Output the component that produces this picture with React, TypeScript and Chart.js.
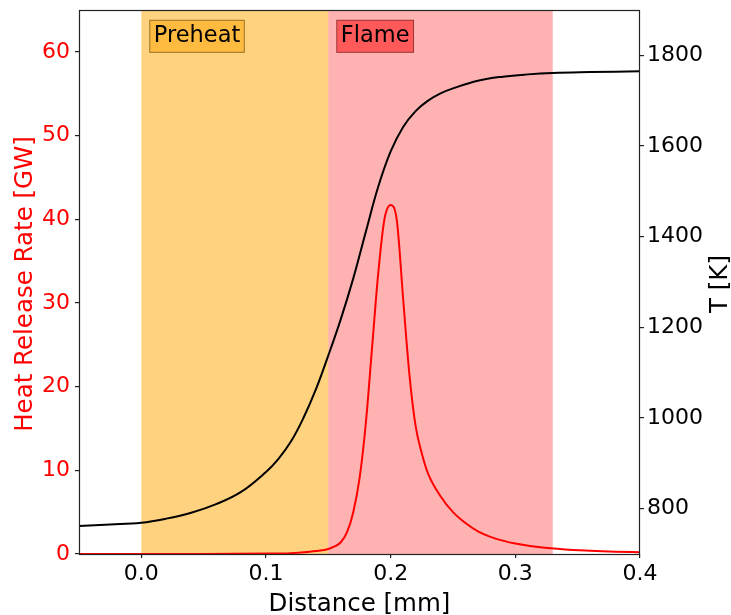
import { useEffect, useRef } from "react";
import { Chart, registerables } from "chart.js";

Chart.register(...registerables);

const FONT = '"DejaVu Sans", "Liberation Sans", sans-serif';

// Axis ranges
const X_MIN = -0.05;
const X_MAX = 0.4;
const HRR_MIN = 0;
const HRR_MAX = 65;
const T_MIN = 700;
const T_MAX = 1900;

// Tick values
const xTicks = [0.0, 0.1, 0.2, 0.3, 0.4];
const hrrTicks = [0, 10, 20, 30, 40, 50, 60];
const tempTicks = [800, 1000, 1200, 1400, 1600, 1800];

// Temperature profile [K] along distance [mm]
const tempDistance = [
  -0.05, -0.025, 0.0, 0.02, 0.04, 0.06, 0.08, 0.1, 0.11, 0.12, 0.13, 0.14,
  0.15, 0.16, 0.17, 0.18, 0.19, 0.2, 0.21, 0.22, 0.23, 0.24, 0.25, 0.27,
  0.29, 0.31, 0.33, 0.36, 0.4,
];
const temperature = [
  762, 765, 769, 778, 791, 810, 837, 881, 910, 948, 1000, 1063,
  1138, 1218, 1308, 1410, 1510, 1588, 1642, 1677, 1700, 1716, 1727, 1744,
  1753, 1758, 1761, 1763, 1765,
];

// Heat release rate [GW] along distance [mm]
const hrrDistance = [
  -0.05, 0.05, 0.1, 0.12, 0.135, 0.14, 0.15, 0.155, 0.16, 0.165, 0.17,
  0.175, 0.18, 0.185, 0.19, 0.195, 0.2, 0.205, 0.21, 0.215, 0.22, 0.225,
  0.23, 0.24, 0.25, 0.26, 0.27, 0.28, 0.29, 0.3, 0.32, 0.34, 0.36, 0.38, 0.4,
];
const heatRelease = [
  0.0, 0.0, 0.05, 0.1, 0.27, 0.35, 0.6, 0.9, 1.4, 2.6, 5.0,
  9.0, 15.5, 24.5, 33.5, 40.0, 41.7, 39.8, 30.5, 21.5, 15.3, 12.0,
  9.6, 6.9, 5.0, 3.7, 2.7, 2.05, 1.6, 1.25, 0.8, 0.55, 0.4, 0.28, 0.2,
];

// Shaded zones
const zoneNames = ["Preheat", "Flame"];
const zoneStart = [0.0, 0.15];
const zoneEnd = [0.15, 0.33];
const zoneFill = ["rgba(255,165,0,0.5)", "rgba(255,0,0,0.3)"];
const zoneTagFill = ["rgba(255,165,0,0.5)", "rgba(255,0,0,0.5)"];

const xTitle = "Distance [mm]";
const hrrTitle = "Heat Release Rate [GW]";
const tempTitle = "T [K]";

const X_TICK_FONT = { family: FONT, size: 22, lineHeight: 1 };
const Y_TICK_FONT = { family: FONT, size: 22, lineHeight: 0.2 };
const TITLE_FONT = `24.5px ${FONT}`;
const TAG_FONT = `22.5px ${FONT}`;

const decorPlugin = {
  id: "decor",
  beforeDatasetsDraw(chart: any) {
    const { ctx, chartArea: a, scales } = chart;
    const x = scales.x;
    ctx.save();
    zoneNames.forEach((_, i) => {
      const x0 = x.getPixelForValue(zoneStart[i]);
      const x1 = x.getPixelForValue(zoneEnd[i]);
      ctx.fillStyle = zoneFill[i];
      ctx.fillRect(x0, a.top, x1 - x0, a.bottom - a.top);
    });
    ctx.restore();
  },
  afterDatasetsDraw(chart: any) {
    const { ctx, chartArea: a, scales } = chart;
    const x = scales.x;
    ctx.save();

    // zone tags
    ctx.font = TAG_FONT;
    ctx.textAlign = "left";
    ctx.textBaseline = "alphabetic";
    zoneNames.forEach((name, i) => {
      const tx = x.getPixelForValue(zoneStart[i] + 0.01);
      const base = a.top + 32.3;
      const w = ctx.measureText(name).width;
      const bx = tx - 4.5;
      const by = base - 22.5;
      const bw = w + 9;
      const bh = 33;
      ctx.fillStyle = zoneTagFill[i];
      ctx.fillRect(bx, by, bw, bh);
      ctx.strokeStyle = "rgba(0,0,0,0.4)";
      ctx.lineWidth = 1;
      ctx.strokeRect(bx + 0.5, by + 0.5, bw - 1, bh - 1);
      ctx.fillStyle = "#000";
      ctx.fillText(name, tx, base);
    });

    // frame
    ctx.strokeStyle = "#222";
    ctx.lineWidth = 1.2;
    ctx.strokeRect(a.left + 0.5, a.top + 0.5, a.right - a.left - 1, a.bottom - a.top);

    // axis titles
    ctx.font = TITLE_FONT;
    ctx.textAlign = "center";
    ctx.textBaseline = "alphabetic";
    ctx.fillStyle = "#000";
    ctx.fillText(xTitle, (a.left + a.right) / 2, 611);

    const midY = (a.top + a.bottom) / 2 + 2;
    ctx.save();
    ctx.translate(31.7, midY);
    ctx.rotate(-Math.PI / 2);
    ctx.fillStyle = "#ff0000";
    ctx.fillText(hrrTitle, 0, 0);
    ctx.restore();

    ctx.save();
    ctx.translate(727, midY);
    ctx.rotate(-Math.PI / 2);
    ctx.fillStyle = "#000";
    ctx.fillText(tempTitle, 0, 0);
    ctx.restore();

    ctx.restore();
  },
};

export default function App() {
  const canvasRef = useRef<HTMLCanvasElement | null>(null);

  useEffect(() => {
    document.body.style.margin = "0";
    const canvas = canvasRef.current;
    if (!canvas) return;

    const chart = new Chart(canvas, {
      type: "line",
      data: {
        datasets: [
          {
            label: "T",
            data: tempDistance.map((d, i) => ({ x: d, y: temperature[i] })),
            borderColor: "#000000",
            borderWidth: 2,
            pointRadius: 0,
            fill: false,
            tension: 0.4,
            yAxisID: "y1",
          },
          {
            label: "HRR",
            data: hrrDistance.map((d, i) => ({ x: d, y: heatRelease[i] })),
            borderColor: "#ff0000",
            borderWidth: 2,
            pointRadius: 0,
            fill: false,
            cubicInterpolationMode: "monotone",
            yAxisID: "y",
          },
        ],
      },
      options: {
        responsive: false,
        animation: false,
        events: [],
        layout: { padding: { top: 10, left: 0, right: 0, bottom: 0 } },
        plugins: {
          legend: { display: false },
          tooltip: { enabled: false },
        },
        scales: {
          x: {
            type: "linear",
            min: X_MIN,
            max: X_MAX,
            afterBuildTicks: (s: any) => {
              s.ticks = xTicks.map((v) => ({ value: v }));
            },
            afterFit: (s: any) => {
              s.height = 61;
            },
            ticks: {
              color: "#000",
              font: X_TICK_FONT,
              padding: 5,
              maxRotation: 0,
              autoSkip: false,
              callback: (v: any) => Number(v).toFixed(1),
            },
            grid: { drawOnChartArea: false, tickLength: 4, color: "#222", lineWidth: 1.2 },
            border: { display: false },
          },
          y: {
            type: "linear",
            position: "left",
            min: HRR_MIN,
            max: HRR_MAX,
            afterBuildTicks: (s: any) => {
              s.ticks = hrrTicks.map((v) => ({ value: v }));
            },
            afterFit: (s: any) => {
              s.width = 79;
            },
            ticks: {
              color: "#ff0000",
              font: Y_TICK_FONT,
              padding: 5,
              autoSkip: false,
              callback: (v: any) => String(v),
            },
            grid: { drawOnChartArea: false, tickLength: 4, color: "#222", lineWidth: 1.2 },
            border: { display: false },
          },
          y1: {
            type: "linear",
            position: "right",
            min: T_MIN,
            max: T_MAX,
            afterBuildTicks: (s: any) => {
              s.ticks = tempTicks.map((v) => ({ value: v }));
            },
            afterFit: (s: any) => {
              s.width = 91;
            },
            ticks: {
              color: "#000",
              font: Y_TICK_FONT,
              padding: 3,
              autoSkip: false,
              callback: (v: any) => String(v),
            },
            grid: { drawOnChartArea: false, tickLength: 4, color: "#222", lineWidth: 1.2 },
            border: { display: false },
          },
        },
      },
      plugins: [decorPlugin],
    } as any);

    return () => chart.destroy();
  }, []);

  return (
    <div style={{ width: 731, height: 615, background: "#fff" }}>
      <canvas ref={canvasRef} width={731} height={615} style={{ display: "block" }} />
    </div>
  );
}
